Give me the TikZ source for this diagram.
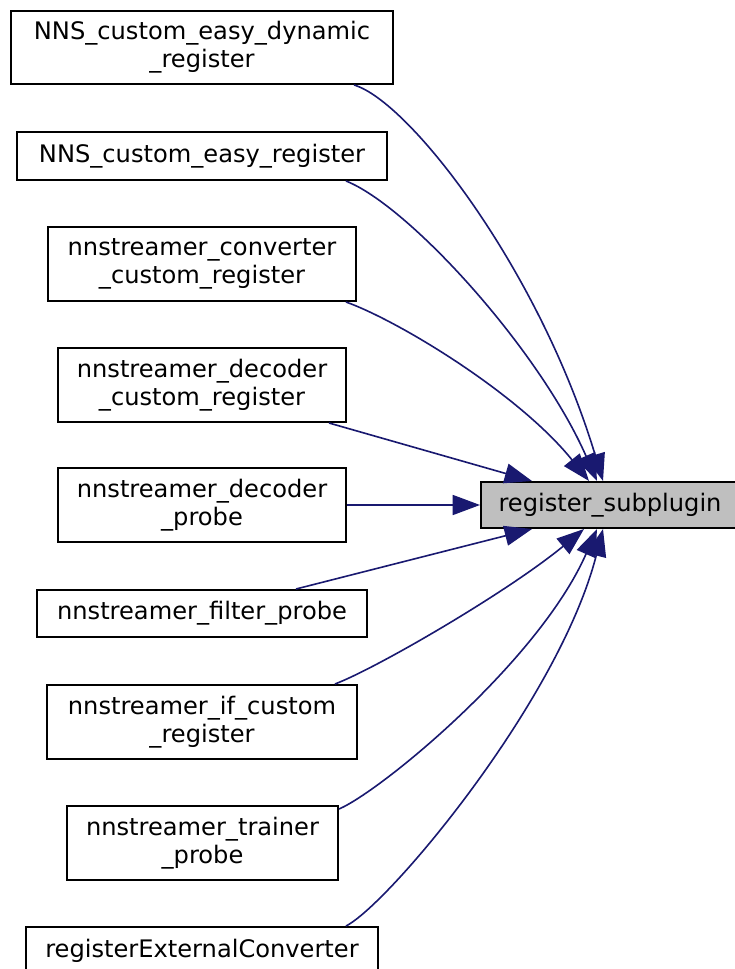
\documentclass[tikz,border=0pt]{standalone}
\usepackage{fontspec}
\setmainfont{DejaVu Sans}
\usepackage{tikz}
\usetikzlibrary{arrows.meta,calc}
\definecolor{edgeblue}{HTML}{191970}
\definecolor{hilite}{HTML}{BFBFBF}

\begin{document}
\begin{tikzpicture}[x=0.75pt,y=-0.75pt,
  font=\fontsize{18.1pt}{21pt}\selectfont,
  callbox/.style={draw=black,line width=1.5pt,fill=white,align=center,inner sep=0pt},
  callarrow/.style={draw=edgeblue,line width=1.2pt,-{Triangle[length=20.5pt,width=15pt]}}]
  \fill[white] (0,0) rectangle (734,969);
  \useasboundingbox (0,0) rectangle (734,969);

  % Callers, left column.
  \node[callbox,minimum width=286.5pt,minimum height=54.75pt] (easydyn) at (202,47.5)
    {NNS\_custom\_easy\_dynamic\\\_register};
  \node[callbox,minimum width=277.5pt,minimum height=36pt] (easyreg) at (202,156)
    {NNS\_custom\_easy\_register};
  \node[callbox,minimum width=231pt,minimum height=55.5pt] (convreg) at (202,264)
    {nnstreamer\_converter\\\_custom\_register};
  \node[callbox,minimum width=216pt,minimum height=55.5pt] (decreg) at (202,385)
    {nnstreamer\_decoder\\\_custom\_register};
  \node[callbox,minimum width=216pt,minimum height=55.5pt] (decprobe) at (202,505)
    {nnstreamer\_decoder\\\_probe};
  \node[callbox,minimum width=247.5pt,minimum height=35.25pt] (filterprobe) at (202,613.5)
    {nnstreamer\_filter\_probe};
  \node[callbox,minimum width=232.5pt,minimum height=55.5pt] (ifreg) at (202,722)
    {nnstreamer\_if\_custom\\\_register};
  \node[callbox,minimum width=203.25pt,minimum height=55.5pt] (trainprobe) at (202.5,843)
    {nnstreamer\_trainer\\\_probe};
  \node[callbox,minimum width=264pt,minimum height=36pt] (extconv) at (202,951)
    {registerExternalConverter};

  % Callee.
  \node[callbox,fill=hilite,minimum width=193.5pt,minimum height=34.5pt] (subplugin) at (610,505)
    {register\_subplugin};

  \draw[callarrow] ($(easydyn.south west)+(344,0)$)
    .. controls +(55,16) and +(-64,-212) .. ($(subplugin.north west)+(123,0)$);
  \draw[callarrow] ($(easyreg.south west)+(330,0)$)
    .. controls +(63,25) and +(-58,-132) .. ($(subplugin.north west)+(117,0)$);
  \draw[callarrow] ($(convreg.south west)+(299,0)$)
    .. controls +(53,19) and +(-70,-87) .. ($(subplugin.north west)+(109,0)$);
  \draw[callarrow] ($(decreg.south west)+(272,0)$) -- ($(subplugin.north west)+(52,0)$);
  \draw[callarrow] (decprobe.east) -- (subplugin.west);
  \draw[callarrow] ($(filterprobe.north west)+(260,0)$) -- ($(subplugin.south west)+(52,0)$);
  \draw[callarrow] ($(ifreg.north west)+(289,0)$)
    .. controls +(44,-17) and +(-75,62) .. ($(subplugin.south west)+(104,0)$);
  \draw[callarrow] ($(trainprobe.north east)+(0,4)$)
    .. controls +(42,-18) and +(-58,132) .. ($(subplugin.south west)+(117,0)$);
  \draw[callarrow] ($(extconv.north west)+(321,0)$)
    .. controls +(43,-22) and +(-44,172) .. ($(subplugin.south west)+(123,0)$);
\end{tikzpicture}
\end{document}
